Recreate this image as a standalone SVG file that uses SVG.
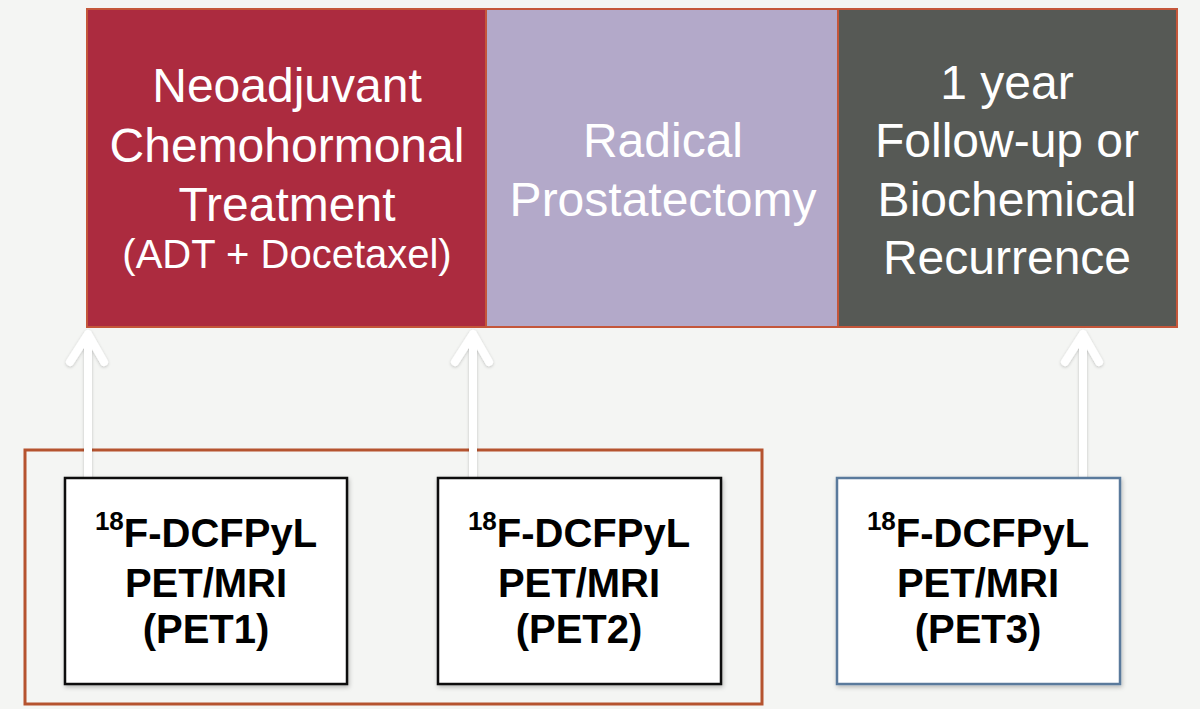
<svg xmlns="http://www.w3.org/2000/svg" width="1200" height="709" viewBox="0 0 1200 709">
<defs>
<filter id="sh" x="-20%" y="-20%" width="140%" height="140%">
<feDropShadow dx="1" dy="2" stdDeviation="2" flood-color="#000" flood-opacity="0.25"/>
</filter>
<filter id="ash" x="-50%" y="-10%" width="200%" height="120%">
<feDropShadow dx="0" dy="1" stdDeviation="1.5" flood-color="#000" flood-opacity="0.22"/>
</filter>
</defs>
<style>
.top{stroke:#c4563a;stroke-width:2}
.tt{font-family:"Liberation Sans",Arial,sans-serif;font-size:48px;fill:#fff;text-anchor:middle}
.bt{font-family:"Liberation Sans",Arial,sans-serif;font-size:40px;font-weight:bold;fill:#000;text-anchor:middle}
.pet{fill:#fff;stroke-width:2.5}
.arr{fill:none;stroke:#fff;stroke-width:8;stroke-linecap:round;stroke-linejoin:round}
</style>
<rect width="1200" height="709" fill="#f4f5f3"/>
<g id="treatment">
<rect class="top" x="87" y="9" width="399" height="318" fill="#ac2b3f"/>
<text class="tt" x="287" y="102">Neoadjuvant</text>
<text class="tt" x="287" y="162">Chemohormonal</text>
<text class="tt" x="287" y="221">Treatment</text>
<text class="tt" x="287" y="268" style="font-size:40px">(ADT + Docetaxel)</text>
</g>
<g id="prostatectomy">
<rect class="top" x="486" y="9" width="352" height="318" fill="#b3a9c9"/>
<text class="tt" x="663" y="157">Radical</text>
<text class="tt" x="663" y="216">Prostatectomy</text>
</g>
<g id="followup">
<rect class="top" x="838" y="9" width="339" height="318" fill="#565955"/>
<text class="tt" x="1007" y="99">1 year</text>
<text class="tt" x="1007" y="157">Follow-up or</text>
<text class="tt" x="1007" y="216">Biochemical</text>
<text class="tt" x="1007" y="274">Recurrence</text>
</g>
<g id="group-frame">
<rect x="25" y="450" width="737" height="254" fill="none" stroke="#b5532f" stroke-width="3"/>
</g>
<g id="connectors" filter="url(#ash)">
<path class="arr" d="M88 478V334M70 362L88 334L104 362"/>
<path class="arr" d="M473 478V334M455 362L473 334L489 362"/>
<path class="arr" d="M1083 478V334M1065 362L1083 334L1099 362"/>
</g>
<g id="pet1">
<rect class="pet" x="65" y="478" width="282" height="206" stroke="#111" filter="url(#sh)"/>
<text class="bt" x="206" y="547"><tspan font-size="26" dy="-17">18</tspan><tspan dy="17">F-DCFPyL</tspan></text>
<text class="bt" x="206" y="597">PET/MRI</text>
<text class="bt" x="206" y="643">(PET1)</text>
</g>
<g id="pet2">
<rect class="pet" x="438" y="478" width="283" height="206" stroke="#111" filter="url(#sh)"/>
<text class="bt" x="579" y="547"><tspan font-size="26" dy="-17">18</tspan><tspan dy="17">F-DCFPyL</tspan></text>
<text class="bt" x="579" y="597">PET/MRI</text>
<text class="bt" x="579" y="643">(PET2)</text>
</g>
<g id="pet3">
<rect class="pet" x="837" y="478" width="283" height="206" stroke="#5a7a9c" filter="url(#sh)"/>
<text class="bt" x="978" y="547"><tspan font-size="26" dy="-17">18</tspan><tspan dy="17">F-DCFPyL</tspan></text>
<text class="bt" x="978" y="597">PET/MRI</text>
<text class="bt" x="978" y="643">(PET3)</text>
</g>
</svg>
